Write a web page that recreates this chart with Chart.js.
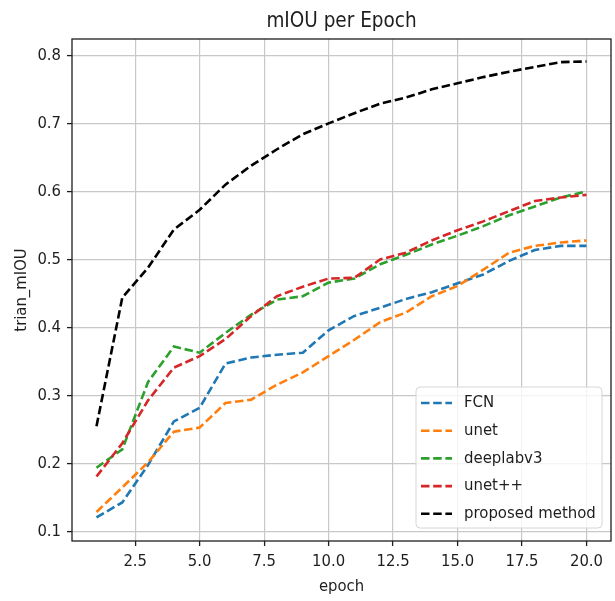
<!DOCTYPE html>
<html>
<head>
<meta charset="utf-8">
<script src="https://cdn.jsdelivr.net/npm/chart.js@4.4.1/dist/chart.umd.min.js"></script>
<style>
  html, body { margin: 0; padding: 0; background: #fff; }
  #wrap { width: 615px; height: 601px; }
</style>
</head>
<body>
<div id="wrap"><canvas id="grafico" width="615" height="601"></canvas></div>
<script>
const epochs = [1, 2, 3, 4, 5, 6, 7, 8, 9, 10, 11, 12, 13, 14, 15, 16, 17, 18, 19, 20];
const xTicks = [2.5, 5, 7.5, 10, 12.5, 15, 17.5, 20];
const yTicks = [0.1, 0.2, 0.3, 0.4, 0.5, 0.6, 0.7, 0.8];

const nombres = ['FCN', 'unet', 'deeplabv3', 'unet++', 'proposed method'];
const fcn      = [0.121, 0.143, 0.198, 0.262, 0.282, 0.347, 0.356, 0.360, 0.363, 0.396, 0.417, 0.429, 0.442, 0.452, 0.465, 0.478, 0.498, 0.514, 0.520, 0.520];
const unet     = [0.129, 0.165, 0.202, 0.247, 0.253, 0.289, 0.294, 0.316, 0.334, 0.358, 0.382, 0.408, 0.422, 0.446, 0.461, 0.485, 0.510, 0.520, 0.525, 0.528];
const deeplab  = [0.194, 0.221, 0.320, 0.372, 0.363, 0.392, 0.419, 0.441, 0.446, 0.466, 0.472, 0.493, 0.507, 0.522, 0.535, 0.549, 0.565, 0.578, 0.591, 0.600];
const unetpp   = [0.181, 0.230, 0.293, 0.341, 0.358, 0.383, 0.417, 0.446, 0.460, 0.472, 0.473, 0.500, 0.510, 0.528, 0.543, 0.556, 0.571, 0.586, 0.591, 0.595];
const propuesto = [0.255, 0.444, 0.488, 0.544, 0.573, 0.610, 0.638, 0.662, 0.684, 0.700, 0.715, 0.729, 0.738, 0.750, 0.759, 0.768, 0.776, 0.783, 0.790, 0.791];

const series = [fcn, unet, deeplab, unetpp, propuesto];
const colores = ['#1f77b4', '#ff7f0e', '#2ca02c', '#d62728', '#000000'];

const FONT = "'DejaVu Sans Condensed', 'DejaVu Sans', sans-serif";
const TEXTO = '#1e1e1e';
const DASH = [8.5, 3.7];
const ANCHO = 2.6;

// marco del area, titulo y leyenda dentro del grafico
const marco = {
    id: 'marco',
    afterDatasetsDraw(chart) {
        const { ctx, chartArea: a } = chart;
        ctx.save();
        ctx.strokeStyle = TEXTO;
        ctx.lineWidth = 1.3;
        ctx.strokeRect(a.left, a.top, a.right - a.left, a.bottom - a.top);

        ctx.fillStyle = TEXTO;
        ctx.font = '20.5px ' + FONT;
        ctx.textAlign = 'center';
        ctx.textBaseline = 'middle';
        ctx.fillText('mIOU per Epoch', (a.left + a.right) / 2, 22);

        // leyenda
        const bx = a.right - 195, by = a.bottom - 154, bw = 186, bh = 141;
        ctx.beginPath();
        ctx.roundRect(bx, by, bw, bh, 4);
        ctx.fillStyle = 'rgba(255,255,255,0.8)';
        ctx.fill();
        ctx.strokeStyle = '#d6d6d6';
        ctx.lineWidth = 1;
        ctx.stroke();

        ctx.font = '16.6px ' + FONT;
        ctx.textAlign = 'left';
        chart.data.datasets.forEach((ds, i) => {
            const y = by + 16 + i * 27.7;
            ctx.beginPath();
            ctx.setLineDash(DASH);
            ctx.strokeStyle = ds.borderColor;
            ctx.lineWidth = ANCHO;
            ctx.moveTo(bx + 5, y);
            ctx.lineTo(bx + 36, y);
            ctx.stroke();
            ctx.setLineDash([]);
            ctx.fillStyle = TEXTO;
            ctx.fillText(ds.label, bx + 48, y);
        });
        ctx.restore();
    }
};

const ctx = document.getElementById('grafico').getContext('2d');
const myChart = new Chart(ctx, {
    type: 'line',
    data: {
        datasets: series.map((s, i) => ({
            label: nombres[i],
            data: epochs.map((e, j) => ({ x: e, y: s[j] })),
            borderColor: colores[i],
            backgroundColor: colores[i],
            borderWidth: ANCHO,
            borderDash: DASH,
            pointRadius: 0,
            fill: false,
            tension: 0,
            order: series.length - i
        }))
    },
    options: {
        responsive: false,
        animation: false,
        devicePixelRatio: 1,
        layout: { padding: { top: 39, right: 4, left: 0, bottom: 0 } },
        plugins: {
            legend: { display: false },
            title: { display: false },
            tooltip: { enabled: false }
        },
        scales: {
            x: {
                type: 'linear',
                min: 0.05,
                max: 20.95,
                afterBuildTicks: axis => { axis.ticks = xTicks.map(v => ({ value: v })); },
                afterFit: axis => { axis.height = 60; },
                grid: { color: '#c8c8c8', lineWidth: 1.2, tickLength: 5, tickColor: TEXTO, tickWidth: 1.3 },
                border: { display: false },
                ticks: {
                    padding: 6,
                    color: TEXTO,
                    font: { family: FONT, size: 16.5 },
                    maxRotation: 0,
                    callback: v => v.toFixed(1)
                },
                title: {
                    display: true,
                    text: 'epoch',
                    color: TEXTO,
                    font: { family: FONT, size: 16.5 },
                    padding: { top: 0, bottom: 4 }
                }
            },
            y: {
                min: 0.0863,
                max: 0.824,
                afterBuildTicks: axis => { axis.ticks = yTicks.map(v => ({ value: v })); },
                afterFit: axis => { axis.width = 72; },
                grid: { color: '#c8c8c8', lineWidth: 1.2, tickLength: 5, tickColor: TEXTO, tickWidth: 1.3 },
                border: { display: false },
                ticks: {
                    padding: 6,
                    color: TEXTO,
                    font: { family: FONT, size: 16.5 },
                    callback: v => v.toFixed(1)
                },
                title: {
                    display: true,
                    text: 'trian_mIOU',
                    color: TEXTO,
                    font: { family: FONT, size: 16.5 },
                    padding: { top: 12, bottom: 0 }
                }
            }
        }
    },
    plugins: [marco]
});
</script>
</body>
</html>
